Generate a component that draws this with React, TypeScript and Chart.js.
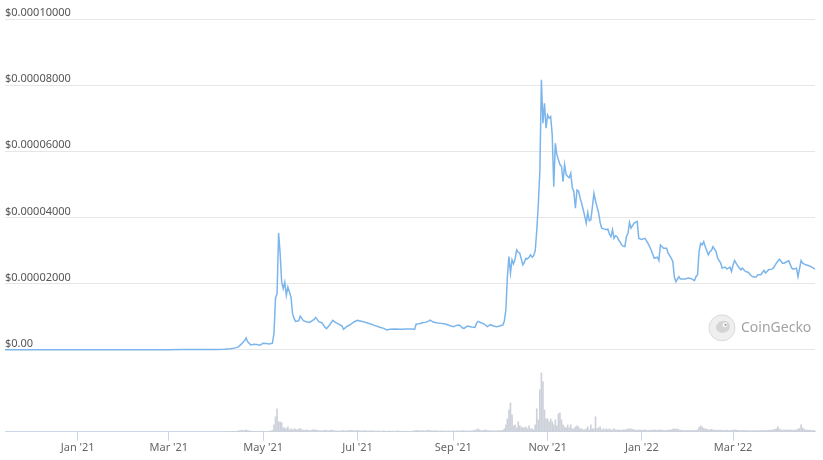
import { useEffect, useRef } from "react";
import { Chart, registerables } from "chart.js";

Chart.register(...registerables);
Chart.defaults.font.family = '"Noto Sans", sans-serif';

// x values are days counted from 15 Nov 2020
const tickDays = [47, 106, 167, 228, 290, 351, 412, 471];
const tickLabels = ["Jan '21", "Mar '21", "May '21", "Jul '21", "Sep '21", "Nov '21", "Jan '22", "Mar '22"];

// price axis in millionths of a dollar
const priceTicks = [0, 20, 40, 60, 80, 100];

const priceDays = [
  0, 15, 30, 47, 60, 75, 90, 105, 115, 125, 137, 142, 146, 149, 151, 153, 155, 156, 157, 159,
  161, 163, 165, 167, 169, 171, 173, 174, 175, 176, 177, 178, 179, 180, 181, 182, 183, 184, 185, 186,
  187, 188, 190, 191, 193, 195, 197, 200, 201, 203, 205, 207, 208, 210, 212, 214, 216, 218, 219, 221,
  223, 226, 228, 231, 234, 236, 239, 242, 245, 247, 249, 252, 256, 260, 263, 265, 266, 268, 270, 272,
  274, 275, 277, 279, 282, 285, 288, 290, 292, 294, 296, 297, 299, 302, 304, 305, 306, 308, 310, 312,
  314, 316, 318, 320, 322, 323, 324, 325, 326, 327, 328, 329, 330, 331, 332, 333, 334, 335, 336, 337,
  338, 339, 340, 341, 342, 343, 344, 345, 346, 347, 348, 349, 350, 351, 352, 353, 354, 355, 356, 357,
  358, 359, 360, 361, 362, 363, 364, 365, 366, 367, 368, 369, 370, 371, 372, 373, 374, 375, 376, 377,
  378, 379, 380, 381, 382, 383, 384, 385, 386, 388, 389, 390, 391, 392, 393, 394, 395, 396, 397, 398,
  399, 400, 401, 402, 403, 404, 405, 407, 409, 410, 412, 414, 416, 418, 420, 422, 423, 424, 426, 428,
  429, 431, 432, 433, 434, 436, 437, 440, 442, 444, 446, 447, 448, 449, 450, 451, 452, 453, 455, 456,
  457, 458, 460, 461, 463, 464, 466, 467, 469, 470, 471, 472, 474, 476, 477, 479, 481, 482, 484, 486,
  487, 489, 491, 492, 494, 496, 497, 499, 501, 503, 504, 506, 507, 509, 510, 512, 513, 515, 516, 518,
  520, 522, 524,
];

const priceValues = [
  0.01, 0.01, 0.01, 0.02, 0.02, 0.03, 0.05, 0.06, 0.1, 0.08, 0.1, 0.15, 0.3, 0.6, 0.9, 1.8, 2.8, 3.6, 2.4, 1.5,
  1.7, 1.6, 1.4, 2.0, 1.9, 1.8, 2.0, 5.0, 15.7, 17.0, 35.3, 29.0, 20.5, 18.5, 20.5, 16.5, 19.0, 17.5, 16.0, 11.0,
  9.5, 8.6, 8.8, 10.2, 8.8, 8.5, 8.3, 9.2, 9.8, 8.5, 8.2, 6.8, 6.4, 7.5, 8.9, 8.2, 7.8, 7.2, 6.2, 7.0,
  7.5, 8.5, 8.9, 8.6, 8.2, 7.9, 7.4, 6.9, 6.5, 6.0, 6.2, 6.3, 6.2, 6.3, 6.3, 6.2, 7.8, 7.9, 8.2, 8.3,
  8.7, 9.0, 8.4, 8.2, 8.0, 7.8, 7.3, 7.0, 7.4, 7.5, 6.6, 6.5, 7.2, 6.9, 6.8, 8.0, 8.6, 8.2, 7.8, 7.0,
  7.6, 7.2, 7.0, 7.2, 7.5, 8.6, 12.0, 22.0, 28.2, 23.2, 27.2, 26.0, 27.5, 30.2, 29.5, 29.2, 27.5, 25.7, 26.5, 27.7,
  27.5, 28.0, 28.7, 28.0, 28.5, 30.0, 36.0, 44.0, 54.0, 81.6, 68.5, 74.5, 67.0, 71.0, 70.0, 70.5, 65.0, 49.3, 62.4, 59.0,
  57.5, 56.0, 55.5, 50.8, 56.0, 53.0, 52.4, 52.0, 53.4, 49.0, 47.8, 42.8, 48.3, 48.0, 46.0, 44.3, 42.5, 40.5, 38.3, 41.5,
  39.0, 39.3, 43.2, 47.3, 45.0, 43.2, 41.4, 38.5, 36.8, 36.5, 36.3, 36.5, 35.0, 34.2, 36.3, 33.7, 34.5, 34.2, 33.2, 32.5,
  31.7, 31.3, 31.2, 34.2, 35.2, 38.5, 36.8, 38.3, 38.8, 33.7, 33.4, 33.7, 32.2, 30.2, 27.7, 28.0, 27.0, 31.7, 30.7, 30.7,
  29.2, 27.7, 26.7, 22.1, 20.6, 22.1, 21.4, 21.4, 21.7, 21.5, 20.9, 22.1, 22.7, 29.7, 32.2, 31.7, 32.7, 31.2, 28.7, 29.7,
  30.0, 31.2, 29.7, 27.7, 26.2, 24.7, 25.0, 24.4, 25.0, 23.7, 25.7, 27.0, 25.4, 24.2, 24.7, 23.7, 23.4, 22.7, 22.0, 22.0,
  22.7, 22.7, 24.0, 23.2, 24.2, 24.4, 24.7, 26.2, 27.4, 26.2, 26.2, 26.7, 26.9, 24.7, 24.4, 24.7, 22.1, 27.0, 26.2, 25.7,
  25.4, 25.0, 24.4,
];

// daily 24h volume in $ billions, from day 140 (earlier days are too small to show)
const volumeStartDay = 140;
const volumeValues = [
  0.02, 0.03, 0.02, 0.04, 0.06, 0.08, 0.15, 0.25, 0.3, 0.3,
  0.4, 0.6, 0.8, 1.1, 0.9, 0.8, 1.3, 0.9, 0.6, 0.5,
  0.4, 0.4, 0.3, 0.3, 0.4, 0.3, 0.5, 0.4, 0.3, 0.4,
  0.3, 0.4, 0.6, 1.0, 4.8, 10.2, 15.6, 6.8, 6.8, 6.1,
  2.7, 2.7, 2.0, 3.4, 1.4, 2.0, 1.4, 2.0, 1.6, 1.4,
  1.8, 2.2, 1.4, 1.2, 1.0, 1.3, 1.1, 0.9, 1.0, 1.5,
  1.2, 1.3, 1.0, 0.8, 0.7, 0.8, 0.6, 1.1, 1.0, 0.7,
  0.8, 1.1, 1.0, 0.7, 0.6, 0.7, 0.5, 0.6, 0.8, 0.9,
  0.6, 0.7, 0.8, 0.9, 1.0, 0.8, 0.7, 0.9, 1.0, 0.8,
  0.7, 0.6, 0.7, 0.8, 0.6, 0.5, 0.6, 0.7, 0.6, 0.5,
  0.5, 0.6, 0.5, 0.4, 0.5, 0.6, 0.5, 0.4, 0.5, 0.5,
  0.4, 0.5, 0.4, 0.5, 0.6, 0.5, 0.4, 0.5, 0.4, 0.4,
  0.5, 0.4, 0.4, 0.5, 0.4, 0.8, 1.0, 0.8, 0.6, 0.7,
  0.8, 0.7, 0.6, 0.9, 1.1, 0.9, 0.7, 0.6, 0.7, 0.6,
  0.6, 0.5, 0.6, 0.5, 0.6, 0.5, 0.5, 0.6, 0.5, 0.5,
  0.6, 0.5, 0.7, 0.6, 0.5, 0.6, 0.9, 0.6, 0.5, 0.6,
  0.5, 0.6, 0.7, 0.8, 1.2, 1.4, 2.0, 1.3, 0.9, 0.8,
  1.0, 1.4, 0.9, 0.8, 0.7, 0.8, 0.7, 0.6, 0.7, 0.8,
  0.7, 0.8, 1.0, 2.0, 4.8, 8.8, 15.0, 19.7, 11.6, 4.1,
  4.8, 2.7, 6.8, 4.1, 3.4, 2.7, 2.7, 3.4, 2.0, 4.1,
  2.0, 2.0, 1.4, 4.8, 15.6, 8.2, 28.6, 40.1, 34.0, 15.0,
  8.8, 8.8, 6.8, 8.8, 6.8, 4.8, 8.2, 4.1, 12.2, 12.9,
  8.2, 4.8, 3.4, 2.7, 4.8, 2.7, 4.8, 2.0, 2.0, 3.4,
  4.1, 3.4, 2.0, 2.0, 1.4, 1.4, 2.0, 3.4, 1.4, 4.8,
  2.0, 2.0, 10.2, 2.0, 2.7, 3.4, 1.4, 2.0, 1.4, 2.0,
  1.4, 2.0, 1.4, 1.4, 2.0, 1.4, 1.2, 1.4, 1.0, 1.2,
  1.4, 1.2, 1.6, 1.8, 2.0, 2.0, 1.6, 1.4, 1.2, 1.0,
  1.4, 1.2, 1.0, 1.1, 1.3, 1.0, 0.9, 1.1, 1.0, 1.2,
  1.3, 1.1, 1.0, 1.2, 1.4, 1.1, 1.0, 0.9, 1.0, 1.1,
  1.2, 1.4, 1.8, 2.0, 1.6, 2.0, 1.3, 1.1, 1.0, 0.9,
  0.9, 1.0, 0.8, 0.9, 1.0, 0.9, 0.8, 1.0, 1.4, 3.0,
  4.1, 3.4, 2.4, 2.0, 1.6, 1.4, 1.3, 1.6, 1.4, 1.2,
  1.1, 1.0, 1.2, 1.1, 1.0, 0.9, 1.0, 1.1, 0.9, 1.0,
  1.0, 1.2, 1.4, 1.1, 1.0, 0.9, 0.8, 0.9, 1.0, 0.8,
  0.8, 0.9, 0.8, 0.7, 0.8, 0.9, 0.8, 0.7, 0.8, 0.9,
  1.0, 0.9, 0.8, 1.0, 1.1, 1.0, 1.2, 1.4, 1.6, 2.0,
  3.4, 1.8, 1.4, 1.2, 1.1, 1.2, 1.3, 1.2, 1.4, 1.1,
  1.0, 1.2, 1.4, 1.8, 2.4, 4.8, 2.7, 1.6, 1.2, 1.1,
  1.0, 1.1, 0.9, 1.0, 0.9,
];

// CoinGecko watermark in the lower right of the price area
const watermark = {
  id: "watermark",
  afterDraw(chart: any) {
    const ctx = chart.ctx;
    const area = chart.chartArea;
    const cx = area.right - 93;
    const cy = chart.scales.y.getPixelForValue(0) - 22;
    ctx.save();
    ctx.beginPath();
    ctx.arc(cx, cy, 13, 0, Math.PI * 2);
    ctx.fillStyle = "#efefef";
    ctx.fill();
    ctx.strokeStyle = "#dadada";
    ctx.lineWidth = 1;
    ctx.stroke();
    ctx.beginPath();
    ctx.ellipse(cx + 1, cy - 1, 7, 6, -0.3, 0, Math.PI * 2);
    ctx.fillStyle = "#d4d4d4";
    ctx.fill();
    ctx.beginPath();
    ctx.arc(cx + 3, cy - 3, 2.3, 0, Math.PI * 2);
    ctx.fillStyle = "#fafafa";
    ctx.fill();
    ctx.beginPath();
    ctx.arc(cx + 3.5, cy - 3, 1.1, 0, Math.PI * 2);
    ctx.fillStyle = "#9a9a9a";
    ctx.fill();
    ctx.font = '14px "Noto Sans", sans-serif';
    ctx.fillStyle = "#a3a3a3";
    ctx.textAlign = "left";
    ctx.textBaseline = "middle";
    ctx.fillText("CoinGecko", cx + 19, cy);
    ctx.restore();
  },
};

export default function App() {
  const canvasRef = useRef<HTMLCanvasElement>(null);

  useEffect(() => {
    if (!canvasRef.current) return;
    const chart = new Chart(canvasRef.current, {
      type: "line",
      data: {
        datasets: [
          {
            type: "line",
            data: priceDays.map((d, i) => ({ x: d, y: priceValues[i] })),
            yAxisID: "y",
            borderColor: "#7cb5ec",
            borderWidth: 1.5,
            pointRadius: 0,
            tension: 0,
          },
          {
            type: "bar",
            data: volumeValues.map((v, i) => ({ x: volumeStartDay + i, y: v })),
            yAxisID: "volume",
            backgroundColor: "#cdd1d9",
            barThickness: 1,
          },
        ],
      } as any,
      options: {
        animation: false,
        responsive: true,
        maintainAspectRatio: false,
        layout: { padding: { left: 5, right: 8, top: 19, bottom: 6 } },
        plugins: { legend: { display: false }, tooltip: { enabled: false } },
        scales: {
          x: {
            type: "linear",
            min: 0,
            max: 524,
            offset: false,
            afterBuildTicks: (s: any) => {
              s.ticks = tickDays.map((v) => ({ value: v }));
            },
            ticks: {
              autoSkip: false,
              maxRotation: 0,
              padding: 0,
              color: "#666",
              font: { size: 11 },
              callback: (v: any) => tickLabels[tickDays.indexOf(Number(v))],
            },
            grid: {
              offset: false,
              drawOnChartArea: false,
              drawTicks: true,
              tickLength: 9,
              tickColor: "#ccd6eb",
            },
            border: { color: "#ccd6eb" },
          },
          y: {
            type: "linear",
            position: "left",
            min: -24.77,
            max: 100,
            afterBuildTicks: (s: any) => {
              s.ticks = priceTicks.map((v) => ({ value: v }));
            },
            ticks: {
              mirror: true,
              padding: 0,
              labelOffset: -6,
              color: "#555",
              font: { size: 11 },
              callback: (v: any) => (Number(v) === 0 ? "$0.00" : "$" + (Number(v) / 1e6).toFixed(8)),
            },
            grid: { color: "#e6e6e6", drawTicks: false },
            border: { display: false },
          },
          volume: { type: "linear", display: false, min: 0, max: 281 },
        },
      } as any,
      plugins: [watermark],
    });
    return () => chart.destroy();
  }, []);

  return (
    <div style={{ position: "fixed", left: 0, top: 0, width: 823, height: 460, background: "#fff" }}>
      <canvas ref={canvasRef} />
    </div>
  );
}
